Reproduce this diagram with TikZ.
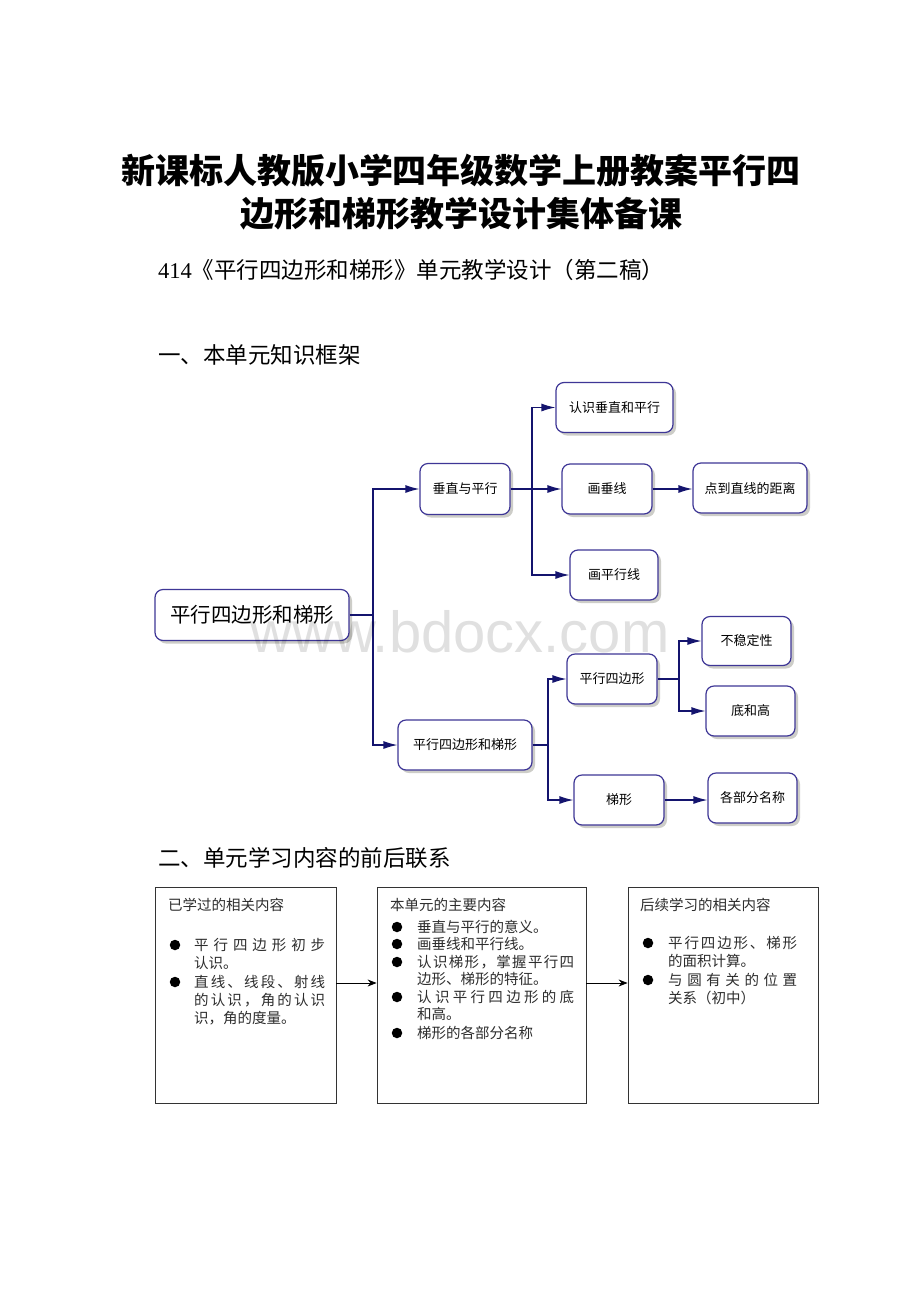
\documentclass[tikz,border=0pt]{standalone}
\usepackage{fontspec}
\setmainfont{Liberation Serif}
\newfontfamily\cjk{Noto Sans CJK SC}
\newfontfamily\wmfont{Liberation Sans}
\usetikzlibrary{arrows.meta,shadows}
\definecolor{boxborder}{RGB}{62,54,150}
\definecolor{navy}{RGB}{20,20,110}
\definecolor{shadowgray}{RGB}{205,205,200}
\definecolor{txtgray}{RGB}{45,45,45}
\begin{document}
\begin{tikzpicture}[x=1pt,y=-1pt,
  rbox/.style={draw=boxborder, line width=1.2pt, fill=white, rounded corners=8pt,
    drop shadow={shadow xshift=3pt, shadow yshift=-3pt, fill=shadowgray, opacity=1},
    inner sep=0pt, font=\cjk\fontsize{13}{13}\selectfont, text=black},
  conn/.style={draw=navy, line width=1.2pt},
  arr/.style={conn, -{Latex[length=14pt,width=8pt]}},
  plain/.style={draw=black!80, line width=0.8pt, fill=none},
  barr/.style={draw=black, line width=0.9pt, -{Stealth[length=9pt,width=7pt]}},
  btxt/.style={anchor=west, inner sep=0pt, text=txtgray, font=\cjk\fontsize{14.5}{14.5}\selectfont},
  bul/.style={circle, fill=black, inner sep=0pt, minimum size=10.5pt},
  head/.style={anchor=west, inner sep=0pt, font=\cjk\fontsize{22.5}{22.5}\selectfont}
]
\useasboundingbox (0,0) rectangle (920,1302);
\fill[white] (0,0) rectangle (920,1302);

% title
\node[inner sep=0pt, font=\cjk\bfseries\fontsize{34}{34}\selectfont] (t1) at (461,171) {新课标人教版小学四年级数学上册教案平行四};
\node[inner sep=0pt, font=\cjk\bfseries\fontsize{34}{34}\selectfont] (t2) at (461,214) {边形和梯形教学设计集体备课};
\node[head] (sub) at (158,270) {{\rmfamily 414}《平行四边形和梯形》单元教学设计（第二稿）};
\node[head] (h1) at (158,355) {一、本单元知识框架};
\node[head] (h2) at (158,858) {二、单元学习内容的前后联系};

% first diagram
\node[rbox, minimum width=194pt, minimum height=51pt, font=\cjk\fontsize{20.5}{20.5}\selectfont] (root) at (252,615) {平行四边形和梯形};
\node[rbox, minimum width=90pt, minimum height=51pt] (v) at (465,489) {垂直与平行};
\node[rbox, minimum width=117pt, minimum height=50pt] (a1) at (614.5,407.5) {认识垂直和平行};
\node[rbox, minimum width=90pt, minimum height=50pt] (a2) at (607,489) {画垂线};
\node[rbox, minimum width=114pt, minimum height=50pt] (a3) at (750,488) {点到直线的距离};
\node[rbox, minimum width=88pt, minimum height=50pt] (a4) at (614,575) {画平行线};
\node[rbox, minimum width=134pt, minimum height=50pt] (p) at (465,745) {平行四边形和梯形};
\node[rbox, minimum width=90pt, minimum height=50pt] (p1) at (612,679) {平行四边形};
\node[rbox, minimum width=90pt, minimum height=50pt] (p2) at (619,800) {梯形};
\node[rbox, minimum width=89pt, minimum height=49pt] (q1) at (746.5,641) {不稳定性};
\node[rbox, minimum width=89pt, minimum height=50pt] (q2) at (750.5,711) {底和高};
\node[rbox, minimum width=89pt, minimum height=50pt] (q3) at (752.5,798) {各部分名称};

\coordinate (j1) at (373,615);
\coordinate (j2) at (532,489);
\coordinate (j3) at (548,745);
\coordinate (j4) at (679,679);

\draw[conn] (root.east) -- (j1);
\draw[arr] (j1) |- (v.west);
\draw[arr] (j1) |- (p.west);
\draw[conn] (v.east) -- (j2);
\draw[arr] (j2) |- (a1.west);
\draw[arr] (j2) -- (a2.west);
\draw[arr] (j2) |- (a4.west);
\draw[arr] (a2.east) -- (a2.east -| a3.west);
\draw[conn] (p.east) -- (j3);
\draw[arr] (j3) |- (p1.west);
\draw[arr] (j3) |- (p2.west);
\draw[conn] (p1.east) -- (j4);
\draw[arr] (j4) |- (q1.west);
\draw[arr] (j4) |- (q2.west);
\draw[arr] (p2.east) -- (p2.east -| q3.west);

% watermark (on top, faint)
\node[anchor=base, inner sep=0pt, text=black, opacity=0.12, font=\wmfont\fontsize{58}{58}\selectfont] (wm) at (460,652) {www.bdocx.com};

% second diagram
\node[plain, draw, minimum width=181pt, minimum height=216pt, inner sep=0pt] (B1) at (245.5,995) {};
\node[plain, draw, minimum width=209pt, minimum height=216pt, inner sep=0pt] (B2) at (481.5,995) {};
\node[plain, draw, minimum width=190pt, minimum height=216pt, inner sep=0pt] (B3) at (723,995) {};
\draw[barr] (B1.east |- 0,983) -- (B2.west |- 0,983);
\draw[barr] (B2.east |- 0,983) -- (B3.west |- 0,983);

% box 1 text
\node[btxt] (b1t) at (168,905) {已学过的相关内容};
\node[bul] (b1a) at (175,945) {};
\node[btxt] (b1l1) at (194,945) {\makebox[131pt][s]{平\hfill 行\hfill 四\hfill 边\hfill 形\hfill 初\hfill 步}};
\node[btxt] (b1l2) at (194,963) {认识。};
\node[bul] (b1b) at (175,982) {};
\node[btxt] (b1l3) at (194,982) {\makebox[131pt][s]{直\hfill 线\hfill 、\hfill 线\hfill 段\hfill 、\hfill 射\hfill 线}};
\node[btxt] (b1l4) at (194,1000) {\makebox[131pt][s]{的\hfill 认\hfill 识\hfill ，\hfill 角\hfill 的\hfill 认\hfill 识}};
\node[btxt] (b1l5) at (194,1018) {识，角的度量。};

% box 2 text
\node[btxt] (b2t) at (390,905) {本单元的主要内容};
\node[bul] (b2a) at (397,927) {};
\node[btxt] (b2l1) at (417,927) {垂直与平行的意义。};
\node[bul] (b2b) at (397,944) {};
\node[btxt] (b2l2) at (417,944) {画垂线和平行线。};
\node[bul] (b2c) at (397,962) {};
\node[btxt] (b2l3) at (417,962) {\makebox[157pt][s]{认\hfill 识\hfill 梯\hfill 形\hfill ，\hfill 掌\hfill 握\hfill 平\hfill 行\hfill 四}};
\node[btxt] (b2l4) at (417,979) {边形、梯形的特征。};
\node[bul] (b2d) at (397,997) {};
\node[btxt] (b2l5) at (417,997) {\makebox[157pt][s]{认\hfill 识\hfill 平\hfill 行\hfill 四\hfill 边\hfill 形\hfill 的\hfill 底}};
\node[btxt] (b2l6) at (417,1014) {和高。};
\node[bul] (b2e) at (397,1033) {};
\node[btxt] (b2l7) at (417,1033) {梯形的各部分名称};

% box 3 text
\node[btxt] (b3t) at (640,905) {后续学习的相关内容};
\node[bul] (b3a) at (648,943) {};
\node[btxt] (b3l1) at (668,943) {\makebox[129pt][s]{平\hfill 行\hfill 四\hfill 边\hfill 形\hfill 、\hfill 梯\hfill 形}};
\node[btxt] (b3l2) at (668,961) {的面积计算。};
\node[bul] (b3b) at (648,980) {};
\node[btxt] (b3l3) at (668,980) {\makebox[129pt][s]{与\hfill 圆\hfill 有\hfill 关\hfill 的\hfill 位\hfill 置}};
\node[btxt] (b3l4) at (668,998) {关系（初中）};
\end{tikzpicture}
\end{document}
